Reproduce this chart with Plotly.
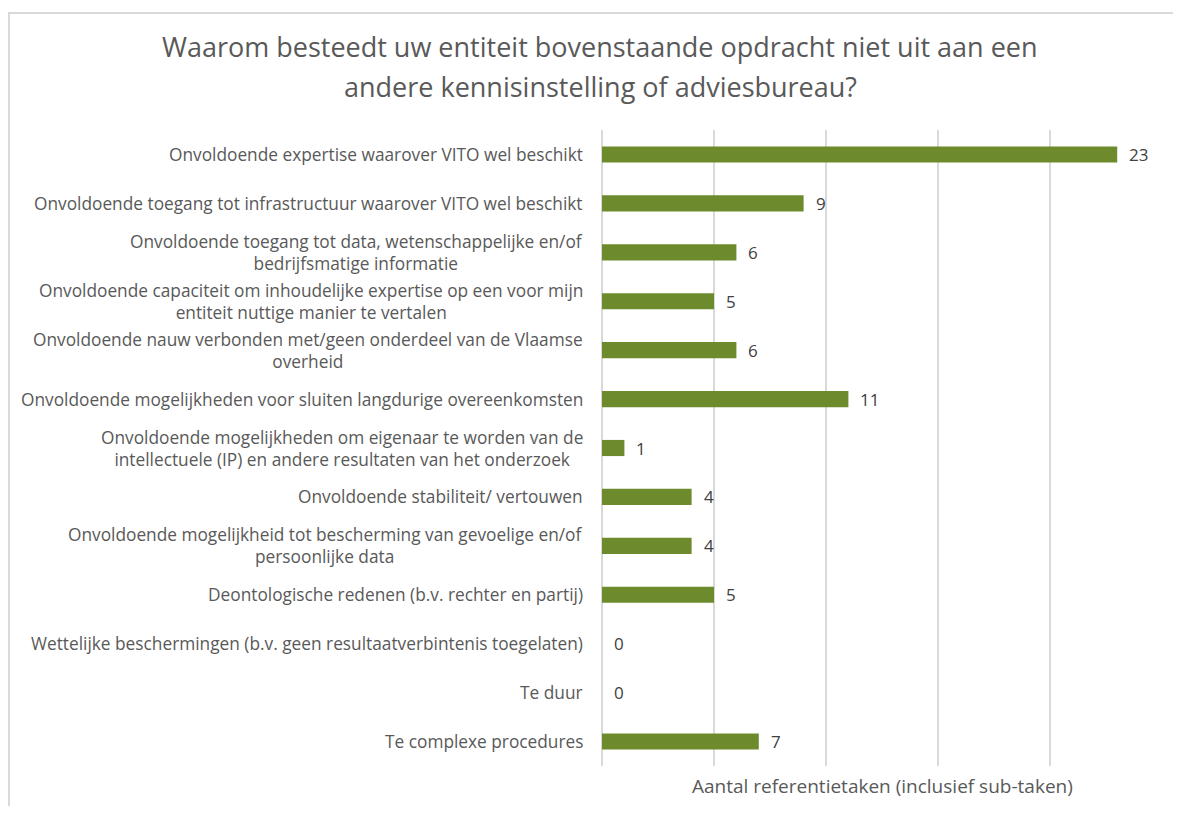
import plotly.graph_objects as go

categories = [
    "Onvoldoende expertise waarover VITO wel beschikt",
    "Onvoldoende toegang tot infrastructuur waarover VITO wel beschikt",
    "Onvoldoende toegang tot data, wetenschappelijke en/of<br>bedrijfsmatige informatie",
    "Onvoldoende capaciteit om inhoudelijke expertise op een voor mijn<br>entiteit nuttige manier te vertalen",
    "Onvoldoende nauw verbonden met/geen onderdeel van de Vlaamse<br>overheid",
    "Onvoldoende mogelijkheden voor sluiten langdurige overeenkomsten",
    "Onvoldoende mogelijkheden om eigenaar te worden van de<br>intellectuele (IP) en andere resultaten van het onderzoek",
    "Onvoldoende stabiliteit/ vertouwen",
    "Onvoldoende mogelijkheid tot bescherming van gevoelige en/of<br>persoonlijke data",
    "Deontologische redenen (b.v. rechter en partij)",
    "Wettelijke beschermingen (b.v. geen resultaatverbintenis toegelaten)",
    "Te duur",
    "Te complexe procedures",
]
values = [23, 9, 6, 5, 6, 11, 1, 4, 4, 5, 0, 0, 7]

title_lines = [
    "Waarom besteedt uw entiteit bovenstaande opdracht niet uit aan een",
    "andere kennisinstelling of adviesbureau?",
]
x_title = "Aantal referentietaken (inclusief sub-taken)"

FONT = "Open Sans"
# page body has an 8px margin: figure coords = reference coords - 8
OFF = 8
W, H = 1165, 798
L = 602 - OFF
T = 130 - OFF
R = W - (1162 - OFF)
B = H - (766 - OFF)

ids = list(range(len(categories)))

fig = go.Figure(go.Bar(
    x=values, y=ids, orientation="h",
    marker=dict(color="#6d8b2c", line=dict(width=0)),
    width=0.33,
    hoverinfo="x+y",
))

pw = W - L - R
ph = H - T - B
def px_x(p):
    return (p - OFF - L) / pw
def px_y(p):
    return 1 - (p - OFF - T) / ph

annotations = []
for i, c in zip(ids, categories):
    annotations.append(dict(
        x=0, xref="paper", y=i, yref="y", text=c, showarrow=False,
        xanchor="right", yanchor="middle", align="center", xshift=-17,
        font=dict(family=FONT, size=17.3, color="#595959"),
    ))
for i, v in zip(ids, values):
    annotations.append(dict(
        x=v, xref="x", y=i, yref="y", text=str(v), showarrow=False,
        xanchor="left", yanchor="middle", xshift=10,
        font=dict(family=FONT, size=17, color="#404040"),
    ))
for ty, line in zip([47, 87], title_lines):
    annotations.append(dict(
        x=px_x(600), xref="paper", y=px_y(ty), yref="paper", text=line,
        showarrow=False, xanchor="center", yanchor="middle",
        font=dict(family=FONT, size=27, color="#595959"),
    ))
annotations.append(dict(
    x=0.5, xref="paper", y=px_y(786), yref="paper", text=x_title,
    showarrow=False, xanchor="center", yanchor="middle",
    font=dict(family=FONT, size=19, color="#595959"),
))

shapes = [
    dict(type="line", xref="paper", yref="paper", x0=px_x(8), x1=px_x(1200), y0=px_y(13), y1=px_y(13),
         line=dict(color="#d9d9d9", width=2)),
    dict(type="line", xref="paper", yref="paper", x0=px_x(9), x1=px_x(9), y0=px_y(13), y1=px_y(830),
         line=dict(color="#d9d9d9", width=2)),
]

fig.update_layout(
    width=W, height=H,
    margin=dict(l=L, r=R, t=T, b=B),
    paper_bgcolor="white", plot_bgcolor="white",
    showlegend=False,
    xaxis=dict(range=[0, 25], dtick=5, showticklabels=False, showgrid=True,
               gridcolor="#d9d9d9", gridwidth=1.5, zeroline=True, zerolinecolor="#d9d9d9",
               zerolinewidth=1.5, showline=False, fixedrange=True),
    yaxis=dict(autorange=False, range=[len(categories) - 0.5, -0.5], showticklabels=False,
               showgrid=False, zeroline=False, tickvals=ids, fixedrange=True),
    annotations=annotations,
    shapes=shapes,
)

fig.write_html("out.html")
